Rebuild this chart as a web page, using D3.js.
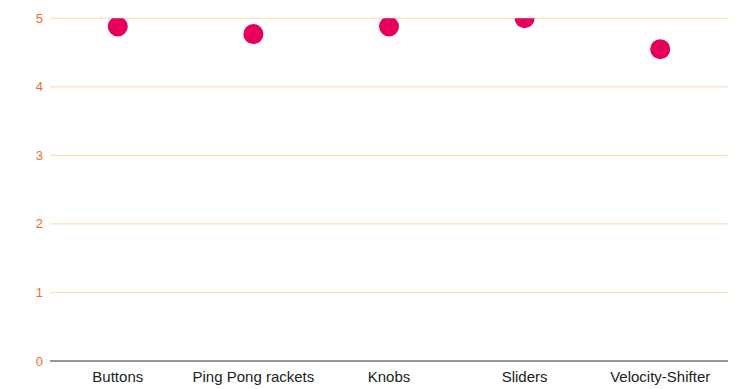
<!DOCTYPE html>
<html>
<head>
<meta charset="utf-8">
<script src="https://cdn.jsdelivr.net/npm/d3@7"></script>
<style>
  html, body { margin: 0; padding: 0; background: #fff; }
  svg { display: block; font-family: "Liberation Sans", Arial, sans-serif; }
</style>
</head>
<body>
<svg id="chart" width="736" height="389"></svg>
<script>
// Average rating per control type
const categories = ["Buttons", "Ping Pong rackets", "Knobs", "Sliders", "Velocity-Shifter"];
const ratings = [4.88, 4.77, 4.88, 5.0, 4.55];
const yTicks = [0, 1, 2, 3, 4, 5];

const width = 736, height = 389;
const margin = { top: 18.3, right: 8, bottom: 28, left: 50 };
const innerW = width - margin.left - margin.right;
const innerH = height - margin.top - margin.bottom;

const svg = d3.select("#chart");
const g = svg.append("g").attr("transform", `translate(${margin.left},${margin.top})`);

const x = d3.scaleBand().domain(categories).range([0, innerW]).padding(0);
const y = d3.scaleLinear().domain([0, 5]).range([innerH, 0]);

// Horizontal gridlines
g.append("g")
  .selectAll("line")
  .data(yTicks.filter(t => t > 0))
  .join("line")
  .attr("x1", 0).attr("x2", innerW)
  .attr("y1", d => y(d)).attr("y2", d => y(d))
  .attr("stroke", "#fcdaa6").attr("stroke-width", 1);

// Y tick labels
g.append("g")
  .selectAll("text")
  .data(yTicks)
  .join("text")
  .attr("x", -7).attr("y", d => y(d))
  .attr("dy", "0.35em")
  .attr("text-anchor", "end")
  .attr("fill", "#f26a2e")
  .attr("font-size", 13)
  .text(d => d);

// Baseline
g.append("line")
  .attr("x1", 0).attr("x2", innerW)
  .attr("y1", y(0)).attr("y2", y(0))
  .attr("stroke", "#333").attr("stroke-width", 1);

// Category labels
g.append("g")
  .selectAll("text")
  .data(categories)
  .join("text")
  .attr("x", d => x(d) + x.bandwidth() / 2)
  .attr("y", innerH + 21.5)
  .attr("text-anchor", "middle")
  .attr("fill", "#222")
  .attr("font-size", 15)
  .text(d => d);

// Points, clipped to the plotting area
g.append("clipPath").attr("id", "plot-clip")
  .append("rect").attr("x", 0).attr("y", 0).attr("width", innerW).attr("height", innerH);

g.append("g")
  .attr("clip-path", "url(#plot-clip)")
  .selectAll("circle")
  .data(categories.map((c, i) => ({ c, v: ratings[i] })))
  .join("circle")
  .attr("cx", d => x(d.c) + x.bandwidth() / 2)
  .attr("cy", d => y(d.v))
  .attr("r", 10)
  .attr("fill", "#e6005c");
</script>
</body>
</html>
